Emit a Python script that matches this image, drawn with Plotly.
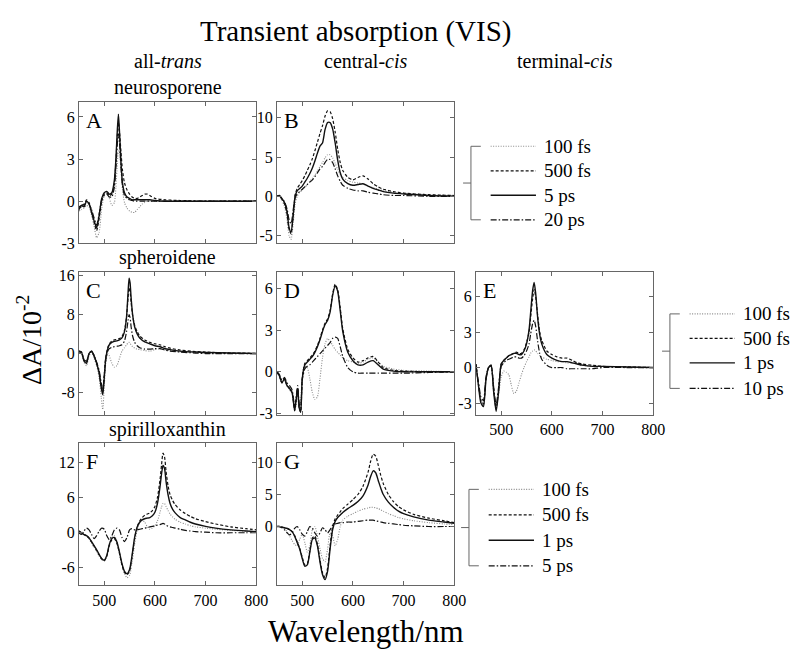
import plotly.graph_objects as go

# ---------------- data ----------------
wl_A = [450,455,460,465,470,475,480,485,490,495,500,505,510,515,520,523,526,528,530,533,536,540,545,550,555,560,565,570,575,580,585,590,600,620,650,700,750,800]
A_100fs = [-0.7,-0.6,-0.5,-0.3,-0.4,-1.0,-1.8,-2.6,-2.2,-0.5,0.4,0.6,0.2,-0.3,-0.1,1.0,2.8,3.6,3.5,2.2,0.8,-0.1,-0.5,-0.7,-0.8,-0.8,-0.6,-0.4,-0.2,-0.1,0.0,0.0,0.0,0.0,0.0,0.0,0.0,0.0]
A_500fs = [-0.5,-0.4,-0.3,0.1,-0.1,-0.7,-1.5,-2.1,-1.2,0.0,0.5,0.6,0.4,0.5,1.3,2.8,4.8,5.6,5.0,3.5,2.2,1.3,0.8,0.5,0.3,0.2,0.2,0.3,0.4,0.5,0.5,0.4,0.2,0.1,0.05,0.0,0.0,0.0]
A_5ps = [-0.6,-0.3,-0.4,0.0,-0.2,-0.8,-1.4,-1.9,-1.0,0.2,0.6,0.7,0.5,0.6,1.5,3.0,5.2,6.2,5.0,2.8,1.3,0.6,0.3,0.2,0.1,0.1,0.1,0.1,0.1,0.1,0.1,0.1,0.05,0.0,0.0,0.0,0.0,0.0]
A_20ps = [-0.4,-0.3,-0.2,0.0,-0.2,-0.6,-1.2,-1.7,-0.9,0.1,0.4,0.5,0.3,0.3,1.0,2.4,4.2,4.8,4.2,2.5,1.1,0.4,0.2,0.1,0.05,0.0,0.0,0.0,0.0,0.0,0.0,0.0,0.0,0.0,0.0,0.0,0.0,0.0]

wl_B = [450,455,460,465,470,474,478,482,486,490,495,500,505,510,515,520,525,530,535,540,545,550,555,560,565,570,575,580,590,600,610,620,630,640,650,660,680,700,750,800]
B_100fs = [0.1,0.0,-0.5,-1.3,-3.0,-5.0,-5.5,-3.5,-1.0,0.0,0.5,0.8,1.1,1.5,1.9,2.3,2.7,3.2,3.8,4.3,4.9,5.3,5.3,4.9,4.2,3.4,2.8,2.4,2.0,1.8,1.7,1.6,1.3,1.1,0.9,0.7,0.5,0.4,0.2,0.1]
B_500fs = [0.0,0.0,-0.4,-1.0,-2.2,-4.2,-4.8,-2.6,0.2,1.0,1.5,2.0,2.6,3.3,4.0,4.8,5.8,6.9,8.0,9.0,10.2,10.9,10.8,9.9,8.2,6.0,4.3,3.3,2.4,2.1,2.4,2.6,2.2,1.6,1.2,0.9,0.6,0.4,0.2,0.1]
B_5ps = [0.0,0.1,-0.3,-0.8,-2.0,-4.0,-4.6,-2.5,0.0,0.7,1.0,1.3,1.8,2.3,2.9,3.6,4.5,5.5,6.4,6.8,8.5,9.4,9.4,8.6,6.8,4.6,3.0,2.2,1.6,1.4,1.5,1.6,1.3,1.0,0.8,0.6,0.4,0.3,0.1,0.0]
B_20ps = [0.0,0.0,-0.3,-0.7,-1.6,-3.0,-3.5,-1.8,-0.2,0.3,0.6,0.9,1.2,1.5,1.8,2.1,2.5,3.0,3.5,3.8,4.3,4.7,4.7,4.3,3.5,2.6,1.9,1.4,1.0,0.8,0.7,0.7,0.5,0.4,0.3,0.2,0.1,0.1,0.0,0.0]

wl_C = [450,455,460,465,470,475,480,485,490,494,497,500,503,507,510,515,520,525,530,535,540,544,547,549,551,553,556,560,565,570,580,590,600,610,620,630,650,680,700,750,800]
C_100fs = [0.3,0.0,-1.8,-2.5,-0.5,0.2,-1.0,-2.5,-5.0,-9.0,-11.5,-7.0,-2.0,0.0,-0.5,-2.0,-2.8,-2.5,-1.0,0.5,1.2,1.8,2.2,2.3,2.1,1.8,1.4,1.1,0.9,0.8,0.6,0.5,0.8,1.0,0.8,0.6,0.4,0.2,0.1,0.05,0.0]
C_500fs = [0.5,0.3,-1.3,-1.8,0.0,0.5,-0.5,-2.0,-4.0,-6.8,-8.0,-4.5,-0.8,1.2,2.0,2.6,2.8,2.9,3.1,3.5,4.8,7.5,11.5,13.5,12.8,10.5,7.8,5.8,4.5,3.6,2.8,2.3,2.0,1.8,1.4,1.1,0.7,0.4,0.3,0.1,0.05]
C_1ps = [0.5,0.3,-1.5,-2.0,0.0,0.5,-0.5,-2.0,-4.0,-7.0,-8.5,-5.0,-1.0,1.0,1.8,2.3,2.5,2.6,2.8,3.2,4.5,7.5,12.5,15.5,14.5,11.5,8.0,5.5,4.0,3.2,2.4,2.0,1.6,1.4,1.0,0.8,0.5,0.3,0.2,0.1,0.0]
C_10ps = [0.4,0.2,-1.2,-1.6,0.0,0.4,-0.4,-1.8,-3.5,-6.0,-7.5,-4.5,-1.2,0.5,1.0,1.3,1.4,1.5,1.6,1.8,2.6,4.5,6.8,8.0,7.4,5.5,3.6,2.3,1.6,1.2,0.9,0.9,1.0,1.0,0.7,0.5,0.3,0.1,0.0,0.0,0.0]

wl_D = [450,455,460,465,470,475,480,485,488,491,494,497,500,505,510,515,520,525,530,535,540,545,550,555,560,565,570,575,580,590,600,610,620,630,640,650,660,680,700,750,800]
D_100fs = [0.0,-0.3,-0.8,-0.6,-1.0,-1.3,-1.6,-2.7,-2.4,-1.5,-2.6,-2.0,-0.5,0.4,0.3,-0.5,-1.5,-2.0,-1.8,-0.5,1.0,2.0,2.4,2.2,1.9,1.6,1.4,1.2,1.0,0.8,0.7,0.6,0.7,0.9,1.0,0.7,0.4,0.2,0.1,0.05,0.0]
D_500fs = [0.0,-0.3,-0.8,-0.5,-1.0,-1.2,-1.5,-2.8,-2.0,-1.2,-2.6,-2.9,-0.5,0.6,0.8,1.0,1.2,1.5,1.9,2.4,3.0,3.5,3.8,4.4,5.6,6.3,5.9,4.6,3.1,1.6,1.0,0.7,0.8,1.0,1.1,0.7,0.3,0.1,0.05,0.0,0.0]
D_1ps = [0.0,-0.3,-0.8,-0.5,-1.0,-1.2,-1.5,-2.8,-2.0,-1.2,-2.6,-2.9,-0.5,0.5,0.7,0.9,1.1,1.4,1.8,2.3,2.9,3.4,3.7,4.3,5.5,6.2,5.8,4.4,2.9,1.4,0.8,0.5,0.5,0.7,0.8,0.5,0.2,0.05,0.0,0.0,0.0]
D_10ps = [0.0,-0.2,-0.6,-0.4,-0.8,-1.0,-1.3,-2.5,-1.8,-1.0,-2.3,-2.6,-0.6,0.2,0.4,0.5,0.7,0.9,1.1,1.3,1.5,1.7,1.9,2.1,2.4,2.5,2.4,1.8,1.1,0.3,0.0,-0.1,-0.1,-0.1,-0.1,-0.1,-0.1,-0.1,-0.1,-0.05,0.0]

wl_E = [450,455,460,465,470,475,480,485,490,495,500,505,510,515,520,525,530,535,540,545,550,555,558,562,565,568,572,576,580,590,600,610,620,630,640,650,660,680,700,750,800]
E_100fs = [0.2,-1.3,-2.8,-3.0,-1.0,0.0,0.1,-2.0,-3.4,-2.2,-0.8,-0.3,-0.4,-0.6,-1.5,-2.2,-2.0,-1.3,-0.6,0.0,0.5,0.9,1.2,1.4,1.5,1.4,1.2,1.0,0.9,0.7,0.6,0.5,0.5,0.4,0.4,0.3,0.2,0.1,0.1,0.05,0.0]
E_500fs = [0.3,-1.4,-2.8,-3.1,-0.9,0.0,0.2,-1.8,-3.5,-1.8,0.3,0.6,0.8,1.0,1.1,1.2,1.3,1.2,1.2,1.5,2.1,3.0,4.2,5.8,6.6,6.0,4.4,3.0,2.3,1.4,1.1,0.9,0.8,0.8,0.6,0.4,0.3,0.2,0.1,0.05,0.0]
E_1ps = [0.3,-1.5,-3.0,-3.3,-1.0,0.0,0.2,-2.0,-3.7,-2.0,0.3,0.6,0.8,1.0,1.1,1.2,1.2,1.1,1.1,1.4,2.0,3.2,4.6,6.5,7.2,6.3,4.2,2.8,2.0,1.1,0.8,0.6,0.5,0.5,0.4,0.3,0.2,0.1,0.1,0.05,0.0]
E_10ps = [0.2,-1.2,-2.5,-2.8,-0.8,0.0,0.1,-1.6,-3.2,-1.6,0.1,0.4,0.6,0.7,0.8,0.9,0.9,0.8,0.8,1.0,1.4,2.0,2.8,3.7,4.0,3.5,2.2,1.2,0.7,0.2,0.0,0.0,0.0,-0.1,-0.1,-0.1,-0.1,-0.1,0.0,0.0,0.0]

wl_F = [450,455,460,465,470,475,480,485,490,495,500,505,510,515,520,525,530,535,540,545,550,555,560,565,570,575,580,585,590,595,600,605,610,613,616,619,622,626,630,635,640,650,660,670,680,700,720,750,780,800]
F_100fs = [0.2,0.0,-0.3,-0.5,-1.0,-1.8,-2.5,-3.2,-4.0,-4.6,-4.8,-4.0,-2.0,-0.8,-0.5,-1.5,-3.5,-5.5,-7.0,-7.7,-7.3,-5.0,-2.0,0.5,1.8,2.2,1.8,1.0,0.6,0.8,1.2,2.0,3.5,4.4,5.0,5.0,4.5,3.8,3.2,2.7,2.3,1.8,1.5,1.2,1.0,0.8,0.6,0.4,0.3,0.2]
F_500fs = [0.3,0.0,-0.3,-0.5,-0.9,-1.6,-2.3,-3.0,-3.8,-4.5,-4.8,-4.0,-2.2,-1.2,-1.0,-1.8,-3.5,-5.5,-6.8,-7.2,-6.5,-4.0,-1.0,1.0,2.0,2.6,3.0,3.2,3.4,3.8,4.5,6.0,9.0,11.5,13.6,13.0,10.5,8.0,6.5,5.5,4.8,3.9,3.3,2.8,2.4,1.9,1.5,1.0,0.7,0.5]
F_1ps = [0.3,0.0,-0.3,-0.5,-0.9,-1.5,-2.2,-2.9,-3.7,-4.4,-4.7,-3.9,-2.0,-1.0,-0.8,-1.6,-3.3,-5.3,-6.6,-7.0,-6.3,-3.8,-0.8,1.0,1.8,2.2,2.4,2.5,2.6,2.9,3.5,5.0,7.8,10.0,11.5,11.0,8.8,6.5,5.0,4.0,3.4,2.6,2.2,1.8,1.5,1.1,0.8,0.5,0.3,0.2]
F_5ps = [0.0,-0.3,0.3,0.8,0.5,-0.3,-1.0,-0.5,0.3,0.8,0.6,-0.5,-1.2,-0.5,0.5,0.8,0.5,-0.8,-1.5,-0.8,0.5,0.7,0.5,0.5,0.6,0.7,0.8,0.9,1.0,1.1,1.2,1.3,1.4,1.5,1.6,1.5,1.3,1.1,1.0,0.9,0.8,0.6,0.4,0.3,0.2,0.1,0.0,0.0,0.0,0.0]

wl_G = [450,455,460,465,470,475,480,485,490,495,500,505,510,515,520,525,530,535,540,545,550,555,560,565,570,575,580,590,600,610,620,630,635,640,645,650,655,660,670,680,690,700,720,750,780,800]
G_100fs = [0.0,0.0,-0.2,-0.4,-0.8,-1.5,-2.2,-2.8,-3.0,-2.0,-1.2,-2.5,-4.0,-3.0,-0.5,0.0,-1.5,-3.5,-5.0,-5.5,-3.5,-1.0,-1.5,-3.0,-2.0,0.0,1.0,1.6,2.0,2.4,2.7,2.9,3.0,3.0,2.9,2.8,2.6,2.4,2.0,1.7,1.4,1.2,0.9,0.6,0.4,0.3]
G_500fs = [0.0,0.0,-0.1,-0.2,-0.3,-0.5,-0.8,-1.4,-2.4,-3.4,-4.8,-6.0,-5.8,-3.8,-1.8,-1.5,-2.8,-5.2,-7.2,-8.0,-6.5,-3.0,0.0,1.2,1.8,2.3,2.8,3.5,4.2,5.0,6.3,8.5,10.2,11.3,11.0,9.6,8.0,6.7,5.0,3.9,3.1,2.6,1.9,1.3,0.9,0.6]
G_1ps = [0.0,0.0,-0.1,-0.2,-0.3,-0.5,-0.8,-1.5,-2.5,-3.5,-5.0,-6.2,-6.0,-4.0,-2.0,-1.8,-3.0,-5.5,-7.5,-8.3,-7.0,-3.5,-0.5,0.8,1.4,1.8,2.2,2.8,3.3,3.9,4.8,6.5,7.8,8.7,8.4,7.2,6.0,5.0,3.8,3.0,2.4,2.0,1.5,1.0,0.7,0.5]
G_5ps = [0.0,0.0,-0.2,-0.5,-1.0,-1.3,-1.0,-0.3,0.0,-0.5,-1.2,-1.5,-0.8,0.0,-0.3,-1.0,-1.5,-1.0,-0.2,-0.5,-1.0,-0.5,0.2,0.4,0.5,0.6,0.6,0.7,0.7,0.8,0.9,1.0,1.0,1.0,0.9,0.8,0.7,0.6,0.5,0.4,0.3,0.2,0.1,0.0,0.0,0.0]

x_ticks = [500, 600, 700, 800]
x_ticklabels = ["500", "600", "700", "800"]
yt_A = [-3, 0, 3, 6];   ytl_A = ["-3", "0", "3", "6"]
yt_B = [-5, 0, 5, 10];  ytl_B = ["-5", "0", "5", "10"]
yt_C = [-8, 0, 8, 16];  ytl_C = ["-8", "0", "8", "16"]
yt_D = [-3, 0, 3, 6];   ytl_D = ["-3", "0", "3", "6"]
yt_E = [-3, 0, 3, 6];   ytl_E = ["-3", "0", "3", "6"]
yt_F = [-6, 0, 6, 12];  ytl_F = ["-6", "0", "6", "12"]
yt_G = [0, 5, 10];      ytl_G = ["0", "5", "10"]

legend_row1 = ["100 fs", "500 fs", "5 ps", "20 ps"]
legend_row2 = ["100 fs", "500 fs", "1 ps", "10 ps"]
legend_row3 = ["100 fs", "500 fs", "1 ps", "5 ps"]

# ---------------- layout helpers ----------------
W, H = 800, 656
FONT = "Liberation Serif, Times New Roman, serif"

def fx(p):
    return p / W

def fy(p):
    return 1 - p / H

styles = [
    dict(color="#8a8a8a", width=1.1, dash="1px,1.5px"),
    dict(color="#111111", width=1.2, dash="3px,2px"),
    dict(color="#111111", width=1.4, dash="solid"),
    dict(color="#111111", width=1.2, dash="6px,2px,1.5px,2px"),
]

col_px = [(72, 252), (273, 453), (475, 655)]
row_px = [(92, 236), (265, 411), (440, 585)]

panels = [
    dict(letter="A", col=0, row=0, wl=wl_A, series=[A_100fs, A_500fs, A_5ps, A_20ps], yr=[-3, 7.05], yt=yt_A, ytl=ytl_A, xl=False),
    dict(letter="B", col=1, row=0, wl=wl_B, series=[B_100fs, B_500fs, B_5ps, B_20ps], yr=[-6, 12], yt=yt_B, ytl=ytl_B, xl=False),
    dict(letter="C", col=0, row=1, wl=wl_C, series=[C_100fs, C_500fs, C_1ps, C_10ps], yr=[-12.6, 16.8], yt=yt_C, ytl=ytl_C, xl=False),
    dict(letter="D", col=1, row=1, wl=wl_D, series=[D_100fs, D_500fs, D_1ps, D_10ps], yr=[-3.1, 7.2], yt=yt_D, ytl=ytl_D, xl=False),
    dict(letter="E", col=2, row=1, wl=wl_E, series=[E_100fs, E_500fs, E_1ps, E_10ps], yr=[-4.0, 8.1], yt=yt_E, ytl=ytl_E, xl=True),
    dict(letter="F", col=0, row=2, wl=wl_F, series=[F_100fs, F_500fs, F_1ps, F_5ps], yr=[-9.0, 15.3], yt=yt_F, ytl=ytl_F, xl=True),
    dict(letter="G", col=1, row=2, wl=wl_G, series=[G_100fs, G_500fs, G_1ps, G_5ps], yr=[-9.2, 13.0], yt=yt_G, ytl=ytl_G, xl=True),
]

fig = go.Figure()
layout = dict(
    width=W, height=H, margin=dict(l=0, r=0, t=0, b=0),
    paper_bgcolor="white", plot_bgcolor="white", showlegend=False,
    font=dict(family=FONT, color="black"),
)
annotations = []
shapes = []

for i, p in enumerate(panels, start=1):
    xs = "" if i == 1 else str(i)
    x0, x1 = col_px[p["col"]]
    y0, y1 = row_px[p["row"]]
    for s, st in zip(p["series"], styles):
        fig.add_trace(go.Scatter(x=p["wl"], y=s, mode="lines", line=dict(**st, shape="spline", smoothing=0.6),
                                 xaxis="x" + xs, yaxis="y" + xs, hoverinfo="skip"))
    layout["xaxis" + xs] = dict(
        domain=[fx(x0), fx(x1)], range=[450, 800], anchor="y" + xs,
        showline=True, mirror="allticks", linecolor="#666", linewidth=1,
        ticks="inside", ticklen=4, tickcolor="#666",
        tickvals=x_ticks, ticktext=x_ticklabels, showticklabels=p["xl"],
        tickfont=dict(size=16, family=FONT, color="black"), showgrid=False, zeroline=False,
    )
    layout["yaxis" + xs] = dict(
        domain=[fy(y1), fy(y0)], range=p["yr"], anchor="x" + xs,
        showline=True, mirror="allticks", linecolor="#666", linewidth=1,
        ticks="inside", ticklen=4, tickcolor="#666",
        tickvals=p["yt"], ticktext=p["ytl"],
        tickfont=dict(size=16, family=FONT, color="black"), showgrid=False, zeroline=False,
    )
    annotations.append(dict(text=p["letter"], x=fx(x0 + 5), y=fy(y0 + 4), xref="paper", yref="paper",
                            xanchor="left", yanchor="top", showarrow=False, font=dict(size=22, family=FONT, color="black")))

# titles and headers
def label(text, x, y, size, xanchor="center", **kw):
    annotations.append(dict(text=text, x=fx(x), y=fy(y), xref="paper", yref="paper", showarrow=False,
                            xanchor=xanchor, yanchor="middle",
                            font=dict(size=size, family=FONT, color="black"), **kw))

label("Transient absorption (VIS)", 353, 20, 29)
label("all-<i>trans</i>", 162, 50, 20)
label("central-<i>cis</i>", 363, 50, 20)
label("terminal-<i>cis</i>", 565, 50, 20)
label("neurosporene", 162, 77, 20)
label("spheroidene", 162, 250, 20)
label("spirilloxanthin", 162, 426, 20)
label("Wavelength/nm", 363, 632, 31)
label("ΔA/10<sup>-2</sup>", 22, 335, 28, textangle=-90)

# legends (bracket + line samples + text)
legends = [
    (legend_row1, 470, [137, 162, 187, 212]),
    (legend_row2, 672, [308, 333, 358, 384]),
    (legend_row3, 468, [487, 513, 539, 565]),
]
for names, bx, ys in legends:
    top, bot = ys[0], ys[-1]
    mid = (top + bot) / 2
    for (xa, ya, xb, yb) in [(bx, top, bx, bot), (bx, top, bx + 10, top), (bx, bot, bx + 10, bot), (bx - 8, mid, bx, mid)]:
        shapes.append(dict(type="line", xref="paper", yref="paper", x0=fx(xa), y0=fy(ya), x1=fx(xb), y1=fy(yb),
                           line=dict(color="#666", width=1)))
    for name, yy, st in zip(names, ys, styles):
        shapes.append(dict(type="line", xref="paper", yref="paper", x0=fx(bx + 20), y0=fy(yy), x1=fx(bx + 66), y1=fy(yy),
                           line=dict(color=st["color"], width=st["width"], dash=st["dash"])))
        label(name, bx + 72, yy, 19, xanchor="left")

layout["annotations"] = annotations
layout["shapes"] = shapes
fig.update_layout(**layout)
fig.write_html("out.html")
